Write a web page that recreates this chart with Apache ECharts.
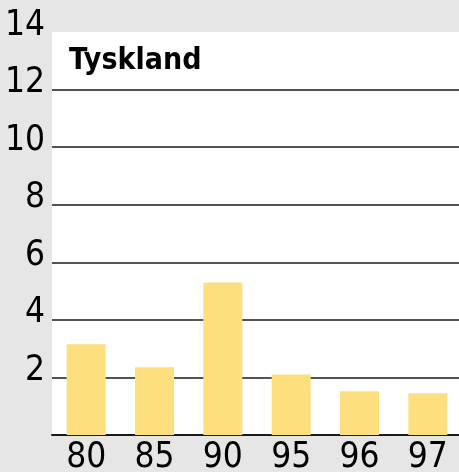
<!DOCTYPE html>
<html>
<head>
<meta charset="utf-8">
<style>
  html, body { margin: 0; padding: 0; background: #e6e6e6; }
  #chart { width: 459px; height: 472px; }
</style>
<script src="https://cdn.jsdelivr.net/npm/echarts@6/dist/echarts.min.js"></script>
</head>
<body>
<div id="chart"></div>
<script>
const categories = ['80', '85', '90', '95', '96', '97'];
const values = [3.15, 2.35, 5.3, 2.1, 1.52, 1.45];
const yTicks = [0, 2, 4, 6, 8, 10, 12, 14];

const FONT = "'Liberation Sans Narrow', 'DejaVu Sans Condensed', sans-serif";
const LINE = '#1a1a1a';

const chart = echarts.init(document.getElementById('chart'), null, { renderer: 'canvas' });

chart.setOption({
  backgroundColor: '#e6e6e6',
  animation: false,
  title: {
    text: 'Tyskland',
    left: 64,
    top: 41,
    textStyle: { fontFamily: FONT, fontWeight: 'bold', fontSize: 30, color: '#000' }
  },
  grid: {
    left: 52,
    top: 32,
    width: 410,
    height: 403,
    outerBoundsMode: 'none',
    containLabel: false,
    show: true,
    backgroundColor: '#ffffff',
    borderWidth: 0
  },
  xAxis: {
    type: 'category',
    data: categories,
    axisLine: { show: true, lineStyle: { color: LINE, width: 2 } },
    axisTick: { show: false },
    axisLabel: { fontFamily: FONT, fontSize: 35, lineHeight: 35, color: '#000', margin: 5 }
  },
  yAxis: {
    type: 'value',
    min: yTicks[0],
    max: yTicks[yTicks.length - 1],
    interval: 2,
    axisLine: { show: false },
    axisTick: { show: false },
    axisLabel: {
      fontFamily: FONT,
      fontSize: 35,
      lineHeight: 13,
      color: '#000',
      margin: 7,
      verticalAlign: 'bottom',
      formatter: v => (v === 0 ? '' : String(v))
    },
    splitLine: {
      show: true,
      lineStyle: {
        width: 1.5,
        color: yTicks.map((t, i) => (i === yTicks.length - 1 ? 'rgba(0,0,0,0)' : LINE))
      }
    }
  },
  series: [{
    type: 'bar',
    data: values,
    barWidth: 39,
    itemStyle: { color: '#fddf80' },
    z: 2
  }]
});
</script>
</body>
</html>
